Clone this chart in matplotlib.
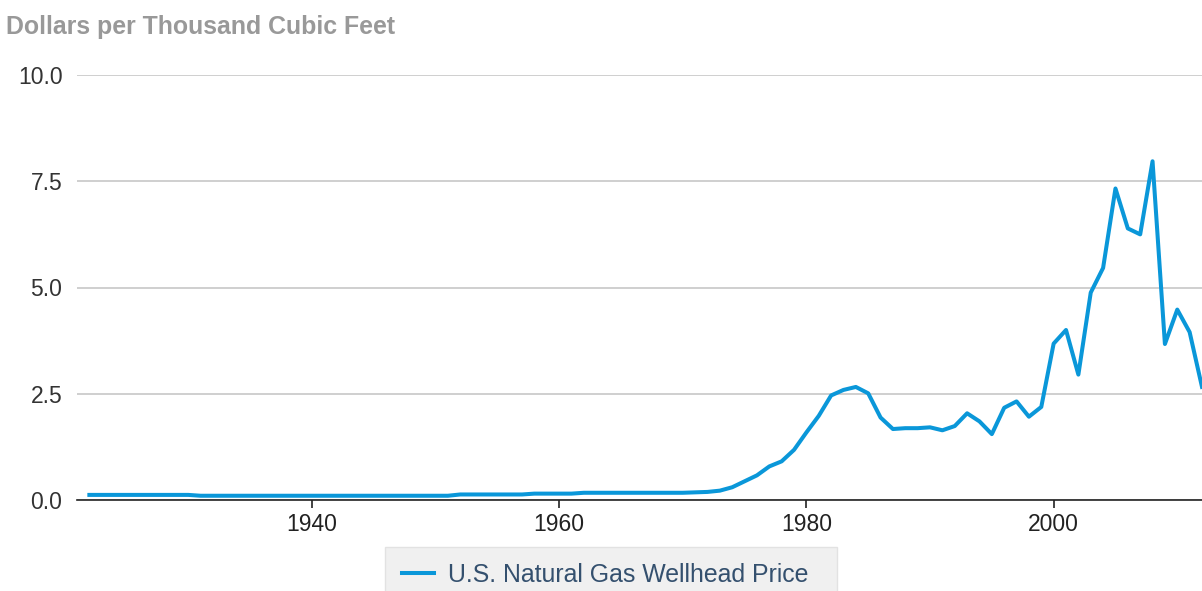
"""U.S. natural gas wellhead price, 1922-2012 (dollars per thousand cubic feet)."""
import numpy as np
import matplotlib
matplotlib.use("Agg")
import matplotlib.pyplot as plt
from matplotlib.patches import Rectangle

plt.rcParams["font.family"] = ["Liberation Sans", "DejaVu Sans"]

years = list(range(1922, 2013))
price = (
    [0.12] * 9            # 1922-1930
    + [0.10] * 21         # 1931-1951
    + [0.13] * 6          # 1952-1957
    + [0.15] * 4          # 1958-1961
    + [0.17] * 9          # 1962-1970
    + [0.18, 0.19, 0.22, 0.30, 0.44, 0.58, 0.79, 0.91, 1.18,   # 1971-1979
       1.59, 1.98, 2.46, 2.59, 2.66, 2.51, 1.94, 1.67, 1.69, 1.69,  # 1980-1989
       1.71, 1.64, 1.74, 2.04, 1.85, 1.55, 2.17, 2.32, 1.96, 2.19,  # 1990-1999
       3.68, 4.00, 2.95, 4.88, 5.46, 7.33, 6.39, 6.25, 7.97, 3.67,  # 2000-2009
       4.48, 3.95, 2.66]                                            # 2010-2012
)
yticks = [0.0, 2.5, 5.0, 7.5, 10.0]
xticks = [1940, 1960, 1980, 2000]
series_name = "U.S. Natural Gas Wellhead Price"
unit_label = "Dollars per Thousand Cubic Feet"

W, H = 1202, 591
fig = plt.figure(figsize=(W / 100, H / 100), dpi=100)
ax = fig.add_axes([77 / W, 91 / H, 1125 / W, 425 / H])

line, = ax.plot(years, price, color="#0a97d9", lw=2.9, solid_joinstyle="round",
                label=series_name)

ax.set_xlim(1921, 2012)
ax.set_ylim(0, 10)
ax.set_yticks(yticks)
ax.set_yticklabels([f"{v:.1f}" for v in yticks])
ax.set_xticks(xticks)
ax.grid(axis="y", color="#cccccc", lw=1.3)
ax.set_axisbelow(True)
for s in ["top", "right", "left"]:
    ax.spines[s].set_visible(False)
ax.spines["bottom"].set_color("#222222")
ax.spines["bottom"].set_linewidth(1.2)
ax.tick_params(axis="y", length=0, pad=10.5, labelsize=16.5, labelcolor="#333333")
ax.tick_params(axis="x", length=6, width=1.2, color="#222222", pad=3.5,
               labelsize=16.5, labelcolor="#222222")

fig.text(6 / W, 1 - 27 / H, unit_label, fontsize=17.9, fontweight="bold",
         color="#999999", va="center", ha="left")

# legend box
fig.patches.append(Rectangle((385 / W, -0.05), (837 - 385) / W, 0.05 + (H - 547) / H,
                             transform=fig.transFigure, facecolor="#f0f0f0",
                             edgecolor="#e2e2e2", lw=1, zorder=0))
fig.legend(handles=[line], loc="center left", bbox_to_anchor=(402 / W, 1 - 575 / H),
           frameon=False, borderpad=0, borderaxespad=0, handlelength=1.28,
           handletextpad=0.58, fontsize=17.9, labelcolor="#34506e")

plt.savefig("out.png", dpi=100)
plt.close()
